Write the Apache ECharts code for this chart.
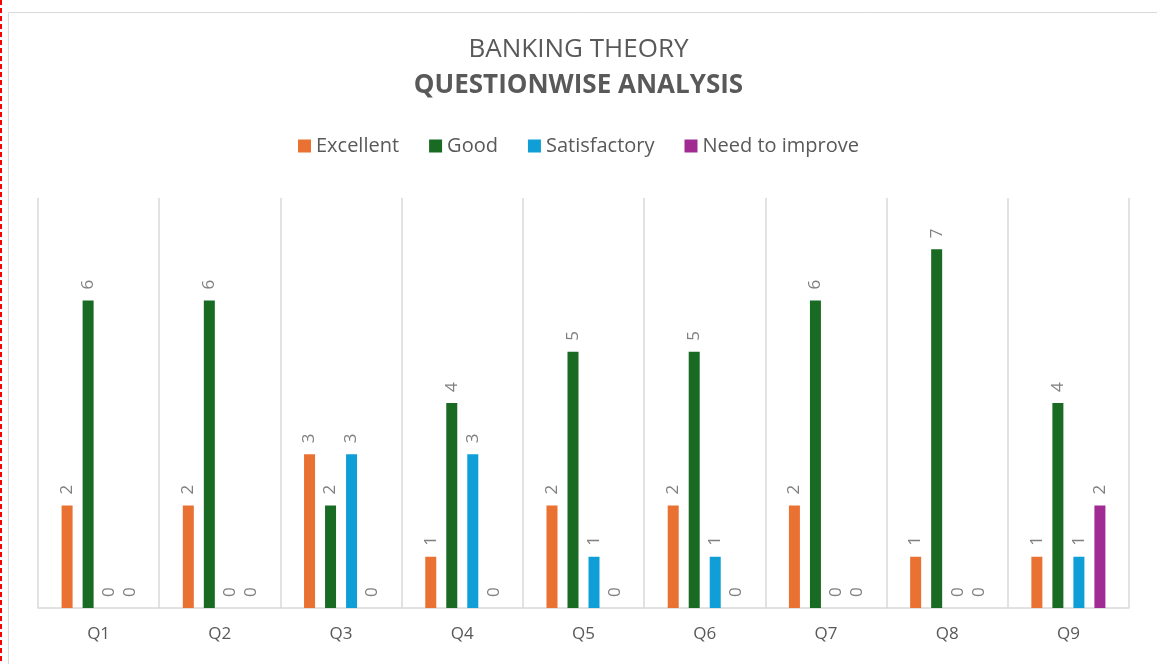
<!DOCTYPE html>
<html>
<head>
<meta charset="utf-8">
<script src="https://cdn.jsdelivr.net/npm/echarts@6/dist/echarts.min.js"></script>
<style>
  html, body { margin: 0; padding: 0; background: #fff; }
  #mainChart { width: 1157px; height: 664px; }
</style>
</head>
<body>
<div id="mainChart"></div>
<script>
var questions = ['Q1', 'Q2', 'Q3', 'Q4', 'Q5', 'Q6', 'Q7', 'Q8', 'Q9'];
var legends = ['Excellent', 'Good', 'Satisfactory', 'Need to improve'];
var excellent = [2, 2, 3, 1, 2, 2, 2, 1, 1];
var good = [6, 6, 2, 4, 5, 5, 6, 7, 4];
var satisfactory = [0, 0, 3, 3, 1, 1, 0, 0, 1];
var needToImprove = [0, 0, 0, 0, 0, 0, 0, 0, 2];
var colors = ['#E97132', '#196B24', '#0F9ED5', '#A02B93'];

var myChart = echarts.init(document.getElementById('mainChart'));
var font = '"Open Sans", "Noto Sans", sans-serif';

function makeSeries(name, data, color) {
    return {
        name: name,
        type: 'bar',
        barWidth: 11,
        barGap: '91%',
        itemStyle: {color: color},
        data: data,
        label: {
            show: true,
            position: 'top',
            rotate: 90,
            align: 'left',
            verticalAlign: 'middle',
            distance: 11,
            color: '#808080',
            fontSize: 17,
            fontFamily: font
        }
    };
}

myChart.setOption({
    animation: false,
    title: [{
        text: 'BANKING THEORY',
        left: 'center',
        top: 32,
        textStyle: {color: '#595959', fontSize: 26, fontWeight: 'normal', fontFamily: font}
    }, {
        text: 'QUESTIONWISE ANALYSIS',
        left: 'center',
        top: 68,
        textStyle: {color: '#595959', fontSize: 26, fontWeight: 'bold', fontFamily: font}
    }],
    legend: {
        data: legends,
        top: 131,
        left: 'center',
        itemWidth: 13,
        itemHeight: 13,
        itemGap: 30,
        icon: 'rect',
        textStyle: {color: '#595959', fontSize: 20, fontFamily: font}
    },
    grid: {left: 38, right: 28, top: 198, bottom: 56},
    xAxis: {
        type: 'category',
        data: questions,
        axisTick: {show: false},
        axisLine: {lineStyle: {color: '#d9d9d9', width: 1.5}},
        splitLine: {show: true, lineStyle: {color: '#d9d9d9', width: 1.5}},
        axisLabel: {color: '#595959', fontSize: 17, fontFamily: font, margin: 18}
    },
    yAxis: {
        type: 'value',
        min: 0,
        max: 8,
        interval: 1,
        show: false,
        splitLine: {show: false}
    },
    graphic: [{
        type: 'rect',
        shape: {x: 8.5, y: 12.5, width: 1160, height: 670},
        style: {fill: 'none', stroke: '#d9d9d9', lineWidth: 1},
        silent: true
    }, {
        type: 'line',
        shape: {x1: 1, y1: 0, x2: 1, y2: 664},
        style: {stroke: '#ff0000', lineWidth: 2, lineDash: [5, 3]},
        silent: true
    }],
    series: [
        makeSeries(legends[0], excellent, colors[0]),
        makeSeries(legends[1], good, colors[1]),
        makeSeries(legends[2], satisfactory, colors[2]),
        makeSeries(legends[3], needToImprove, colors[3])
    ]
});
</script>
</body>
</html>
